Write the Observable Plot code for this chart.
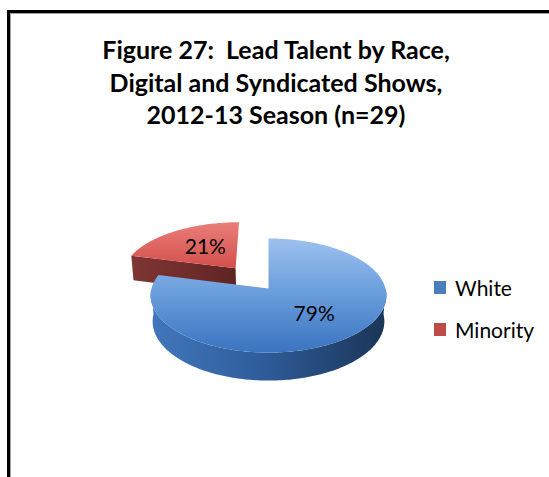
<!DOCTYPE html>
<html>
<head>
<meta charset="utf-8">
<script src="https://cdn.jsdelivr.net/npm/d3@7"></script>
<script src="https://cdn.jsdelivr.net/npm/@observablehq/plot@0.6"></script>
<style>
  html, body { margin: 0; padding: 0; background: #fff; }
  #wrap { position: relative; width: 549px; height: 477px; overflow: hidden; font-family: Lato, "Open Sans", sans-serif; color: #000; }
  #frame { position: absolute; left: 7px; top: 10px; width: 700px; height: 700px; border-left: 3px solid #000; border-top: 3px solid #000; box-shadow: inset 1px 1px 0 #a0a0a0; }
  #chart { position: absolute; left: 0; top: 0; }
  #title { position: absolute; left: 0; top: 33px; width: 552px; text-align: center; font-weight: bold; font-size: 25px; line-height: 32.5px; white-space: pre; }
  .leg { position: absolute; left: 434px; height: 20px; display: flex; align-items: center; font-size: 21px; white-space: nowrap; }
  .sw { width: 12px; height: 13px; margin-right: 9px; }
</style>
</head>
<body>
<div id="wrap">
  <div id="frame"></div>
  <div id="chart"></div>
  <div id="title"></div>
  <div id="legend"></div>
</div>
<script>
// ---- data ----
const titleLines = ["Figure 27:  Lead Talent by Race,", "Digital and Syndicated Shows,", "2012-13 Season (n=29)"];
const categories = ["White", "Minority"];
const values = [79, 21];
const valueLabels = ["79%", "21%"];
const explodedCategory = "Minority";

// ---- styles / geometry ----
const W = 549, H = 477;
const CX = 268, CY = 288, R = 117;
const alpha = 28.7 * Math.PI / 180, DIST = 7.14, THICK = 0.255, EXPLODE = 0.48;
const legendColors = {White: "#4a7ebb", Minority: "#be4b48"};
const topFill = {White: "url(#blueTop)", Minority: "url(#redTop)"};
const sideFill = {White: "url(#blueSide)", Minority: "url(#redSide)"};
const cutFill = {White: "url(#blueCut)", Minority: "url(#redCut)"};

function proj(X, Y, Z) {
  const sa = Math.sin(alpha), ca = Math.cos(alpha);
  const v = Y * sa + Z * ca, w = Y * ca - Z * sa;
  const s = DIST / (DIST + w);
  return {x: X * s, y: v * s};
}

const total = d3.sum(values);
let acc = 0;
const slices = categories.map((c, i) => {
  const a0 = acc / total * 2 * Math.PI;
  acc += values[i];
  const a1 = acc / total * 2 * Math.PI;
  const mid = (a0 + a1) / 2;
  const e = c === explodedCategory ? EXPLODE : 0;
  return {c, i, a0, a1, mid, ox: e * Math.sin(mid), oy: e * Math.cos(mid)};
});

function pt(sl, r, th, z) {
  return proj(sl.ox + r * Math.sin(th), sl.oy + r * Math.cos(th), -z * THICK);
}
function arc(sl, t0, t1, z) {
  const n = Math.max(2, Math.ceil(Math.abs(t1 - t0) / 0.02));
  return d3.range(n + 1).map(k => pt(sl, 1, t0 + (t1 - t0) * k / n, z));
}

// faces, back slice first
const order = [...slices].sort((a, b) => Math.cos(b.mid) - Math.cos(a.mid));
const faces = [];
order.forEach(sl => {
  if (Math.sin(sl.a0) < -1e-6) {
    faces.push({fill: cutFill[sl.c], pts: [pt(sl, 0, sl.a0, 0), pt(sl, 1, sl.a0, 0), pt(sl, 1, sl.a0, 1), pt(sl, 0, sl.a0, 1)]});
  }
  if (Math.sin(sl.a1) > 1e-6) {
    faces.push({fill: cutFill[sl.c], pts: [pt(sl, 0, sl.a1, 0), pt(sl, 1, sl.a1, 0), pt(sl, 1, sl.a1, 1), pt(sl, 0, sl.a1, 1)]});
  }
  const lo = Math.max(sl.a0, Math.PI / 2), hi = Math.min(sl.a1, 3 * Math.PI / 2);
  if (hi > lo) {
    faces.push({fill: sideFill[sl.c], pts: [...arc(sl, lo, hi, 0), ...arc(sl, hi, lo, 1)]});
  }
  faces.push({fill: topFill[sl.c], pts: [pt(sl, 0, 0, 0), ...arc(sl, sl.a0, sl.a1, 0)]});
});

const labelPts = slices.map(sl => {
  const p = proj(sl.ox + 0.55 * Math.sin(sl.mid), sl.oy + 0.55 * Math.cos(sl.mid), 0);
  return {x: p.x, y: p.y, label: valueLabels[sl.i]};
});

const plot = Plot.plot({
  width: W, height: H,
  margin: 0,
  x: {domain: [-CX / R, (W - CX) / R], range: [0, W], axis: null},
  y: {domain: [-(H - CY) / R, CY / R], range: [H, 0], axis: null},
  style: {background: "transparent", overflow: "visible"},
  marks: [
    ...faces.map(f => Plot.line(f.pts, {x: "x", y: "y", fill: f.fill, stroke: "none", curve: "linear"})),
    Plot.text(labelPts, {x: "x", y: "y", text: "label", fontSize: 21, fill: "#000", fontFamily: "Lato, 'Open Sans', sans-serif", textAnchor: "middle", dx: 4, dy: 0})
  ]
});

const defs = d3.select(plot).insert("defs", ":first-child");
function lin(id, x2, y2, stops) {
  const g = defs.append("linearGradient").attr("id", id).attr("x1", 0).attr("y1", 0).attr("x2", x2).attr("y2", y2);
  stops.forEach(([o, c]) => g.append("stop").attr("offset", o).attr("stop-color", c));
}
lin("blueTop", 0, 1, [[0, "#9dc1ee"], [0.45, "#6c9fdd"], [1, "#3a74c0"]]);
lin("blueSide", 1, 0, [[0, "#4277bb"], [0.45, "#2f5e9d"], [1, "#1b3556"]]);
lin("blueCut", 1, 0, [[0, "#3a6cad"], [1, "#24487a"]]);
lin("redTop", 0, 1, [[0, "#ea7e7a"], [1, "#d34f4b"]]);
lin("redSide", 1, 0, [[0, "#7a3130"], [1, "#5a2221"]]);
lin("redCut", 1, 0, [[0, "#7e3533"], [0.6, "#6e2b2a"], [1, "#5e2422"]]);

document.getElementById("chart").appendChild(plot);

const t = document.getElementById("title");
titleLines.forEach(l => { const d = document.createElement("div"); d.textContent = l; t.appendChild(d); });

const lg = document.getElementById("legend");
const legendTops = [277.5, 319.5];
categories.forEach((c, i) => {
  const d = document.createElement("div");
  d.className = "leg";
  d.style.top = legendTops[i] + "px";
  const s = document.createElement("span");
  s.className = "sw";
  s.style.background = legendColors[c];
  d.appendChild(s);
  d.appendChild(document.createTextNode(c));
  lg.appendChild(d);
});
</script>
</body>
</html>
